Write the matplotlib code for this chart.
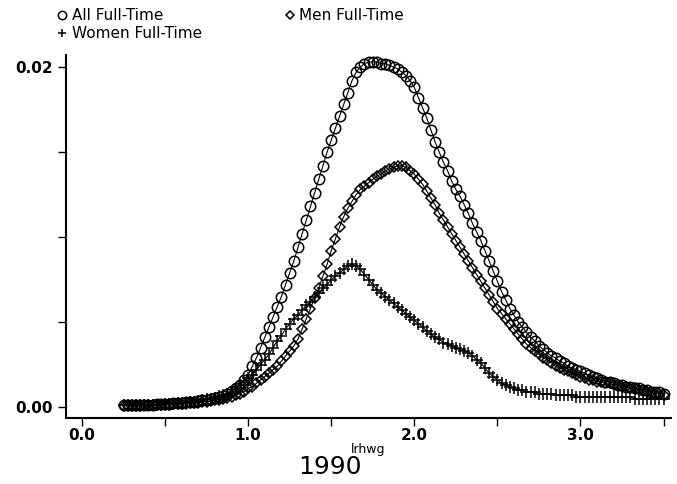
import numpy as np
import matplotlib
matplotlib.use("Agg")
import matplotlib.pyplot as plt
from matplotlib.ticker import MultipleLocator, FixedLocator, FixedFormatter

#kernel density of log real hourly wage, 1990 (read off the scan)
#evaluated on a grid from 0.25 to 3.5 in steps of 0.025
x_start, x_step = 0.25, 0.025

all_ft = [
    0.0001, 0.0001, 0.0001, 0.0001, 0.0001, 0.00012, 0.00013, 0.00015, 0.00016, 0.00018, 0.0002,
    0.00021, 0.00022, 0.00024, 0.00026, 0.00028, 0.0003, 0.00033, 0.00036, 0.0004, 0.00044,
    0.00048, 0.00053, 0.0006, 0.00068, 0.0008, 0.00095, 0.0011, 0.0013, 0.0016, 0.0019,
    0.0024, 0.0029, 0.0035, 0.0041, 0.0047, 0.0053, 0.0059, 0.0065, 0.0072, 0.0079,
    0.0086, 0.0094, 0.0102, 0.0110, 0.0118, 0.0126, 0.0134, 0.0142, 0.0150, 0.0157,
    0.0164, 0.0171, 0.0178, 0.0185, 0.0192, 0.0197, 0.0200, 0.0202, 0.0203, 0.0203,
    0.0203, 0.0202, 0.0202, 0.0201, 0.0200, 0.0199, 0.0197, 0.0195, 0.0192, 0.0188,
    0.0182, 0.0176, 0.0170, 0.0163, 0.0156, 0.0150, 0.0144, 0.0139, 0.0133, 0.0128,
    0.0124, 0.0119, 0.0114, 0.0108, 0.0103, 0.0098, 0.0092, 0.0086, 0.0080, 0.0074,
    0.0068, 0.0063, 0.0058, 0.0054, 0.0050, 0.0047, 0.0044, 0.0041, 0.0039, 0.0036,
    0.0034, 0.0032, 0.0030, 0.0029, 0.0027, 0.0026, 0.0024, 0.0023, 0.0022, 0.0021,
    0.0020, 0.0019, 0.0018, 0.0017, 0.0016, 0.0015, 0.0015, 0.0014, 0.0013, 0.0013,
    0.0012, 0.0012, 0.0011, 0.0011, 0.0010, 0.0010, 0.0009, 0.0009, 0.0009, 0.0008,
]

men_ft = [
    0.00008, 0.00008, 0.00008, 0.00009, 0.00009, 0.0001, 0.0001, 0.00011, 0.00012, 0.00013, 0.00014,
    0.00015, 0.00016, 0.00017, 0.00018, 0.0002, 0.00022, 0.00024, 0.00026, 0.00029, 0.00032,
    0.00035, 0.00039, 0.00043, 0.00048, 0.00054, 0.0006, 0.0007, 0.0008, 0.0009, 0.0011,
    0.0012, 0.0014, 0.0016, 0.0018, 0.0020, 0.0022, 0.0024, 0.0027, 0.0030, 0.0033,
    0.0036, 0.0040, 0.0046, 0.0052, 0.0058, 0.0064, 0.0070, 0.0077, 0.0084, 0.0092,
    0.0099, 0.0106, 0.0112, 0.0117, 0.0121, 0.0125, 0.0128, 0.0130, 0.0132, 0.0134,
    0.0136, 0.0137, 0.0139, 0.0140, 0.0141, 0.0142, 0.0142, 0.0141, 0.0139, 0.0137,
    0.0134, 0.0131, 0.0127, 0.0123, 0.0119, 0.0114, 0.0110, 0.0106, 0.0102, 0.0098,
    0.0094, 0.0090, 0.0086, 0.0082, 0.0078, 0.0074, 0.0070, 0.0066, 0.0062, 0.0058,
    0.0055, 0.0052, 0.0049, 0.0046, 0.0043, 0.0040, 0.0037, 0.0035, 0.0033, 0.0031,
    0.0029, 0.0028, 0.0026, 0.0024, 0.0023, 0.0022, 0.0021, 0.0020, 0.0019, 0.0018,
    0.0017, 0.0016, 0.0016, 0.0015, 0.0015, 0.0014, 0.0014, 0.0013, 0.0013, 0.0012,
    0.0012, 0.0011, 0.0011, 0.0010, 0.0010, 0.0009, 0.0009, 0.0008, 0.0008, 0.0007,
]

women_ft = [
    0.0001, 0.0001, 0.0001, 0.0001, 0.0001, 0.00011, 0.00012, 0.00013, 0.00014, 0.00015, 0.00016,
    0.00018, 0.0002, 0.00022, 0.00024, 0.00026, 0.00029, 0.00032, 0.00036, 0.0004, 0.00045,
    0.0005, 0.00056, 0.00063, 0.0007, 0.0008, 0.0009, 0.0011, 0.0013, 0.0015, 0.0017,
    0.0019, 0.0022, 0.0025, 0.0028, 0.0031, 0.0035, 0.0039, 0.0042, 0.0046, 0.0049,
    0.0052, 0.0054, 0.0057, 0.0060, 0.0062, 0.0065, 0.0067, 0.0070, 0.0072, 0.0075,
    0.0077, 0.0079, 0.0081, 0.0083, 0.0084, 0.0083, 0.0081, 0.0078, 0.0075, 0.0072,
    0.0069, 0.0067, 0.0065, 0.0063, 0.0061, 0.0059, 0.0057, 0.0055, 0.0053, 0.0051,
    0.0049, 0.0047, 0.0045, 0.0043, 0.0041, 0.0040, 0.0038, 0.0037, 0.0036, 0.0035,
    0.0034, 0.0033, 0.0032, 0.0030, 0.0028, 0.0026, 0.0023, 0.0020, 0.0018, 0.0016,
    0.0014, 0.0013, 0.0012, 0.0011, 0.0010, 0.0010, 0.0009, 0.0009, 0.0009, 0.0008,
    0.0008, 0.0008, 0.0008, 0.0007, 0.0007, 0.0007, 0.0007, 0.0007, 0.0006, 0.0006,
    0.0006, 0.0006, 0.0006, 0.0006, 0.0006, 0.0006, 0.0006, 0.0006, 0.0006, 0.0006,
    0.0006, 0.0006, 0.0005, 0.0005, 0.0005, 0.0005, 0.0005, 0.0005, 0.0005, 0.0005,
]

x_ticks = [0.0, 1.0, 2.0, 3.0]
x_tick_labels = ["0.0", "1.0", "2.0", "3.0"]
y_ticks = [0.0, 0.005, 0.01, 0.015, 0.02]
y_tick_labels = ["0.00", "", "", "", "0.02"]

grid = x_start + x_step * np.arange(len(all_ft))

plt.rcParams['font.family'] = ['DejaVu Sans']

fig = plt.figure(figsize=(6.77, 4.84), dpi=100)
ax = fig.add_axes([0.0975, 0.136, 0.893, 0.750])

ax.plot(grid, all_ft, color='black', lw=0.8, marker='o', ms=7.5, mfc='none', mew=1.1,
        label='All Full-Time')
ax.plot(grid, men_ft, color='black', lw=0.8, marker='D', ms=4.8, mfc='none', mew=1.1,
        label='Men Full-Time')
ax.plot(grid, women_ft, color='black', lw=0.8, marker='+', ms=8, mew=1.1,
        label='Women Full-Time')

ax.set_xlim(-0.096, 3.542)
ax.set_ylim(-0.00065, 0.0207)

ax.spines['top'].set_visible(False)
ax.spines['right'].set_visible(False)
ax.spines['left'].set_linewidth(1.5)
ax.spines['bottom'].set_linewidth(1.5)

ax.xaxis.set_major_locator(FixedLocator(x_ticks))
ax.xaxis.set_major_formatter(FixedFormatter(x_tick_labels))
ax.xaxis.set_minor_locator(MultipleLocator(0.5))
ax.yaxis.set_major_locator(FixedLocator(y_ticks))
ax.yaxis.set_major_formatter(FixedFormatter(y_tick_labels))
ax.tick_params(which='both', direction='out', length=6, width=1.0, colors='black',
               labelsize=11)
ax.tick_params(axis='x', pad=1)
for lab in ax.get_xticklabels() + ax.get_yticklabels():
    lab.set_fontweight('bold')

ax.set_xlabel("lrhwg", fontsize=9, labelpad=0)
fig.text(0.487, 0.036, "1990", ha='center', va='center', fontsize=18)

#legend in two columns above the plot (All / Women on the left, Men on the right)
h, l = ax.get_legend_handles_labels()
order = [0, 2, 1]
leg = fig.legend([h[i] for i in order], [l[i] for i in order], ncol=2,
                 loc='upper left', bbox_to_anchor=(0.065, 1.012), frameon=False,
                 handlelength=0.6, handletextpad=0.3, columnspacing=5.5,
                 labelspacing=0.2, fontsize=11, markerscale=0.8)
for line in leg.get_lines():
    line.set_linestyle('none')

fig.savefig("out.png", dpi=100)
